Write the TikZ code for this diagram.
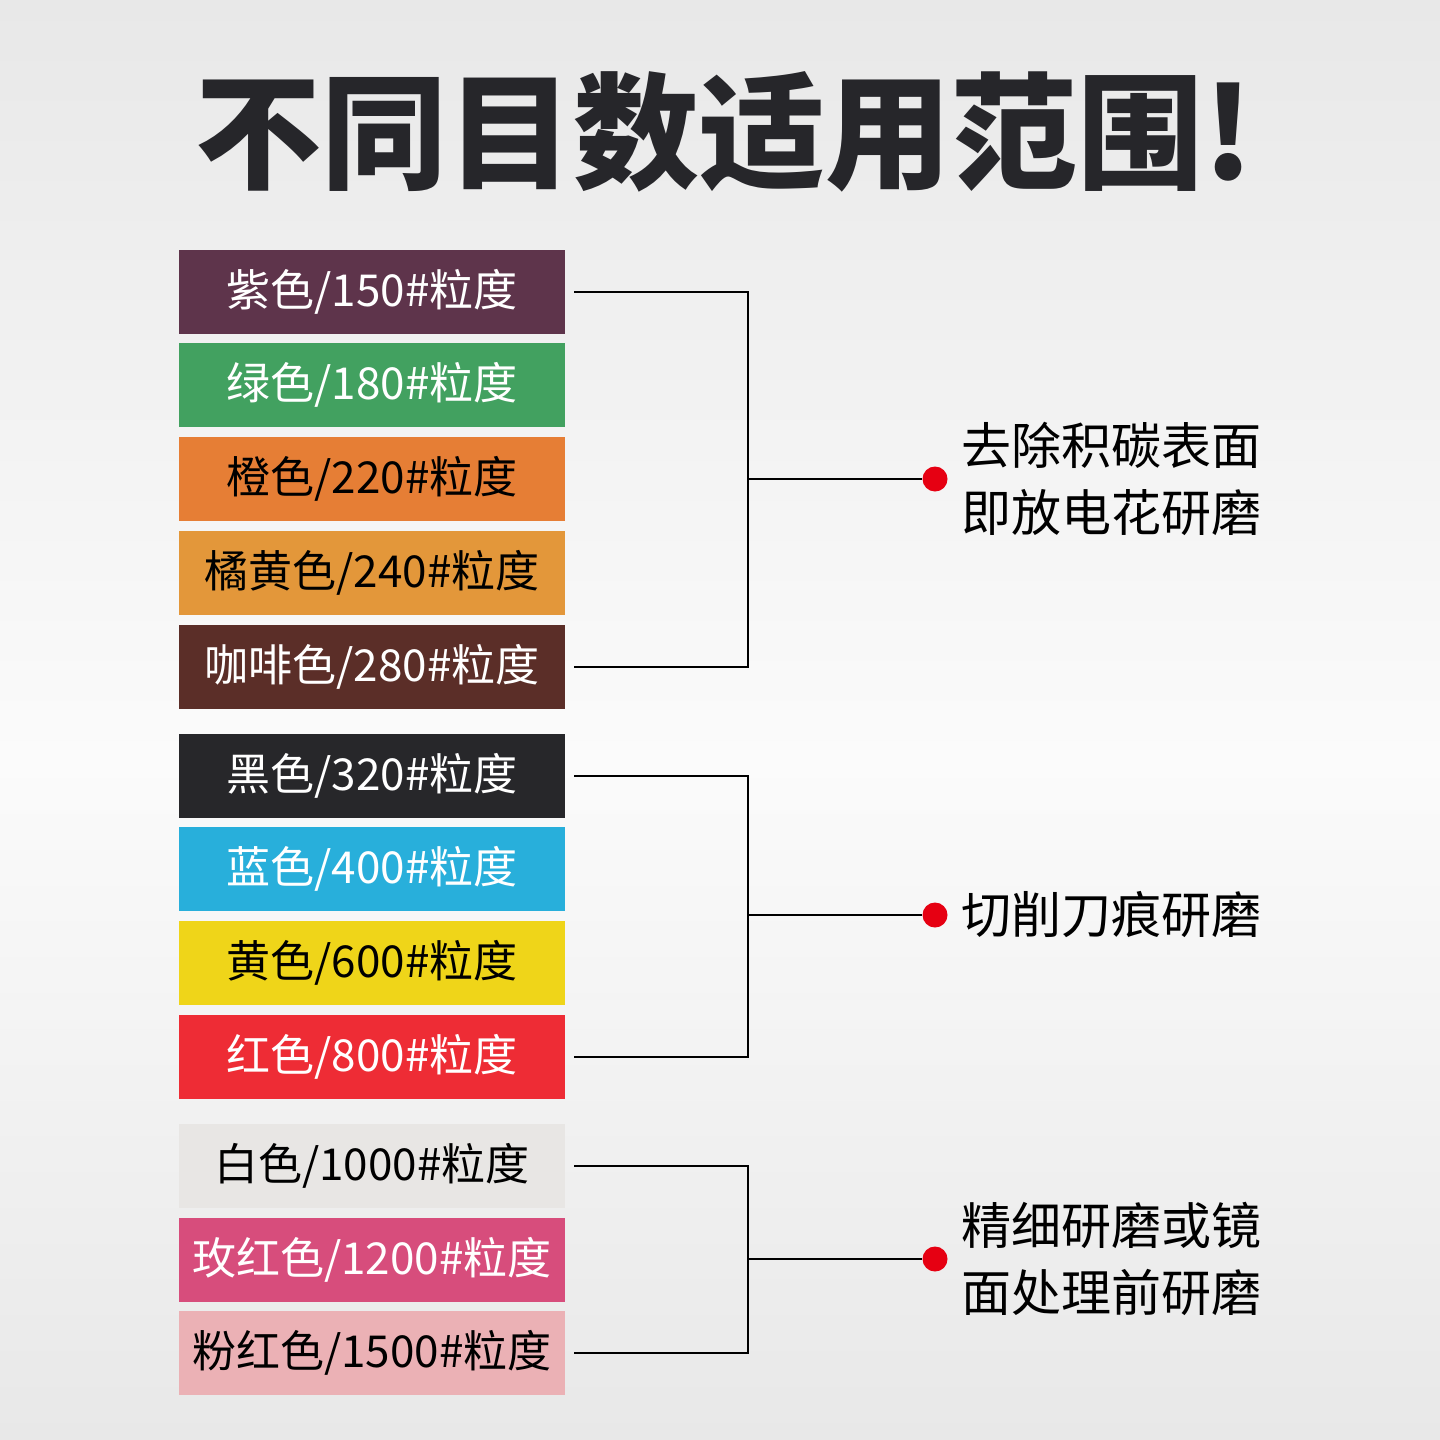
\documentclass[tikz,border=0pt]{standalone}
\usepackage{fontspec}
\usepackage{xcolor}
\usetikzlibrary{positioning}
\newfontfamily\cjk{Noto Sans CJK SC}
\definecolor{zise}{HTML}{5E344B}
\definecolor{lvse}{HTML}{42A160}
\definecolor{chengse}{HTML}{E67E35}
\definecolor{juhuang}{HTML}{E3973A}
\definecolor{kafei}{HTML}{5B2E28}
\definecolor{heise}{HTML}{27272A}
\definecolor{lanse}{HTML}{28AFDB}
\definecolor{huangse}{HTML}{EFD519}
\definecolor{hongse}{HTML}{EE2C35}
\definecolor{baise}{HTML}{E8E6E4}
\definecolor{meihong}{HTML}{D74D7C}
\definecolor{fenhong}{HTML}{EBB1B5}
\definecolor{dotred}{HTML}{E60012}
\definecolor{titlegray}{HTML}{26262A}
\definecolor{bgedge}{HTML}{E8E8E8}
\definecolor{bgmid}{HTML}{FBFBFB}

\begin{document}
\begin{tikzpicture}[x=1pt,y=-1pt,
  grit/.style={minimum width=386pt, minimum height=84pt, inner sep=0pt, text=white,
    font=\cjk\fontsize{44}{44}\selectfont},
  darktext/.style={text=black},
  bracket/.style={line width=2.6pt, black},
  reddot/.style={circle, fill=dotred, minimum size=25pt, inner sep=0pt},
  usage/.style={font=\cjk\fontsize{50}{67}\selectfont, align=left, inner sep=0pt, text=black}]
\shade[top color=bgedge, bottom color=bgmid] (0pt,0pt) rectangle (1440pt,-760pt);
\shade[top color=bgmid, bottom color=bgedge] (0pt,-760pt) rectangle (1440pt,-1440pt);
\useasboundingbox (0,0) rectangle (1440,1440);

\node[font=\cjk\bfseries\fontsize{126}{126}\selectfont, text=titlegray] (title) at (725,132) {不同目数适用范围!};

\node[grit, fill=zise] (b150) at (372,292) {紫色/150\#粒度};
\node[grit, fill=lvse] (b180) at (372,385) {绿色/180\#粒度};
\node[grit, fill=chengse, darktext] (b220) at (372,479) {橙色/220\#粒度};
\node[grit, fill=juhuang, darktext] (b240) at (372,573) {橘黄色/240\#粒度};
\node[grit, fill=kafei] (b280) at (372,667) {咖啡色/280\#粒度};

\node[grit, fill=heise] (b320) at (372,776) {黑色/320\#粒度};
\node[grit, fill=lanse] (b400) at (372,869) {蓝色/400\#粒度};
\node[grit, fill=huangse, darktext] (b600) at (372,963) {黄色/600\#粒度};
\node[grit, fill=hongse] (b800) at (372,1057) {红色/800\#粒度};

\node[grit, fill=baise, darktext] (b1000) at (372,1166) {白色/1000\#粒度};
\node[grit, fill=meihong] (b1200) at (372,1260) {玫红色/1200\#粒度};
\node[grit, fill=fenhong, darktext] (b1500) at (372,1353) {粉红色/1500\#粒度};

\coordinate (j1) at (748,479);
\coordinate (j2) at (748,915);
\coordinate (j3) at (748,1259);
\node[reddot] (d1) at (935,479) {};
\node[reddot] (d2) at (935,915) {};
\node[reddot] (d3) at (935,1259) {};

\node[usage, right=14pt of d1] (u1) {去除积碳表面\\即放电花研磨};
\node[usage, right=14pt of d2] (u2) {切削刀痕研磨};
\node[usage, right=14pt of d3] (u3) {精细研磨或镜\\面处理前研磨};

\draw[bracket] ([xshift=9pt]b150.east) -| (j1) |- ([xshift=9pt]b280.east);
\draw[bracket] (j1) -- (d1);
\draw[bracket] ([xshift=9pt]b320.east) -| (j2) |- ([xshift=9pt]b800.east);
\draw[bracket] (j2) -- (d2);
\draw[bracket] ([xshift=9pt]b1000.east) -| (j3) |- ([xshift=9pt]b1500.east);
\draw[bracket] (j3) -- (d3);
\end{tikzpicture}
\end{document}
